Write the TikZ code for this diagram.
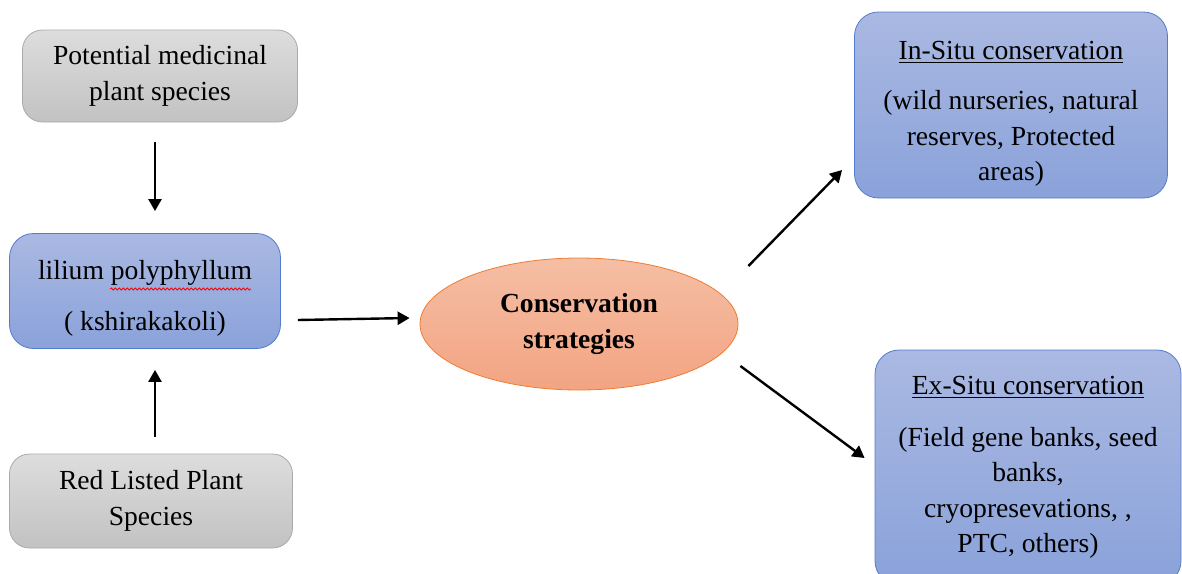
\documentclass[tikz,border=0pt]{standalone}
\usepackage{fontspec}
\setmainfont{Liberation Serif}
\usetikzlibrary{arrows.meta,shapes.geometric,decorations.pathmorphing}
\definecolor{greytop}{RGB}{221,221,221}
\definecolor{greybot}{RGB}{194,194,194}
\definecolor{greyline}{RGB}{170,170,170}
\definecolor{bluetop}{RGB}{170,185,226}
\definecolor{bluebot}{RGB}{138,162,218}
\definecolor{blueline}{RGB}{84,124,204}
\definecolor{peachtop}{RGB}{245,190,164}
\definecolor{peachbot}{RGB}{243,164,130}
\definecolor{peachline}{RGB}{237,125,49}

\begin{document}
\begin{tikzpicture}[
			x=0.5pt, y=-0.5pt,
			font=\fontsize{13.8}{17.8}\selectfont,
			greybox/.style={draw=greyline, top color=greytop, bottom color=greybot, rectangle, rounded corners=10pt, align=center},
			bluebox/.style={draw=blueline, top color=bluetop, bottom color=bluebot, rectangle, rounded corners=12pt, align=center},
			strategybox/.style={draw=peachline, top color=peachtop, bottom color=peachbot, ellipse, align=center, font=\fontsize{13.8}{18}\selectfont\bfseries},
			arrow/.style={draw=black, line width=1.2pt, -{Triangle[length=6pt,width=6.5pt]}}
			]
			\useasboundingbox (0,0) rectangle (1182,573);
			
			% left column
			\node[greybox, minimum width=137.5pt, minimum height=46pt] (potential) at (160,76) {Potential medicinal\\plant species};
			\node[bluebox, minimum width=135.5pt, minimum height=57.5pt] (lilium) at (145,291) {\rule{0pt}{17pt}lilium polyphyllum\\[7.5pt]( kshirakakoli)};
			\node[greybox, minimum width=141.5pt, minimum height=47pt] (redlisted) at (151,501) {Red Listed Plant\\Species};
			
			% spell-check squiggle
			\draw[red, line width=0.4pt, decorate, decoration={snake, amplitude=0.5pt, segment length=2pt}]
				([shift={(-17.5pt,1pt)}]lilium.center) -- ([shift={(53pt,1pt)}]lilium.center);
			
			% centre
			\node[strategybox, minimum width=159pt, minimum height=66pt, inner sep=0pt] (strategy) at (579,324) {Conservation\\strategies};
			
			% right column
			\node[bluebox, minimum width=156.5pt, minimum height=93pt] (insitu) at (1011,105) {\rule{0pt}{18pt}\underline{In-Situ conservation}\\[7.5pt](wild nurseries, natural\\reserves, Protected\\areas)};
			\node[bluebox, minimum width=153pt, minimum height=117.5pt] (exsitu) at (1028,467.5) {\underline{Ex-Situ conservation}\\[8pt](Field gene banks, seed\\banks,\\cryopresevations, ,\\PTC, others)};
			
			% connectors
			\draw[arrow] ([shift={(-2.5pt,-10pt)}]potential.south) -- ([shift={(5pt,11pt)}]lilium.north);
			\draw[arrow] ([shift={(2pt,8.5pt)}]redlisted.north) -- ([shift={(5pt,-10.5pt)}]lilium.south);
			\draw[arrow] ([shift={(8.5pt,-14.5pt)}]lilium.east) -- ([shift={(-5pt,3pt)}]strategy.west);
			\draw[arrow] ([shift={(5pt,29pt)}]strategy.east) -- ([shift={(-6pt,-32.5pt)}]insitu.west);
			\draw[arrow] ([shift={(1pt,-21pt)}]strategy.east) -- ([shift={(-5pt,4.75pt)}]exsitu.west);
			
		\end{tikzpicture}
\end{document}
